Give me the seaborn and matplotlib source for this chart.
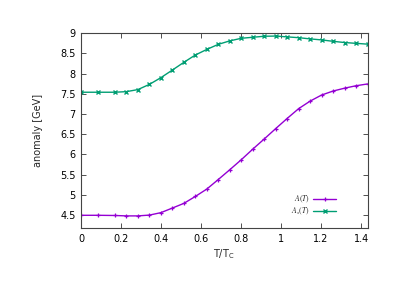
import matplotlib
matplotlib.use("Agg")
import matplotlib.pyplot as plt
import seaborn as sns
import pandas as pd

t_over_tc = [0.0, 0.085, 0.170, 0.227, 0.284, 0.342, 0.399, 0.457, 0.514, 0.571,
             0.629, 0.686, 0.743, 0.801, 0.858, 0.915, 0.973, 1.030, 1.088, 1.145,
             1.202, 1.260, 1.317, 1.374, 1.432]
anomaly_A = [4.495, 4.495, 4.49, 4.48, 4.48, 4.50, 4.56, 4.675, 4.79, 4.96,
             5.145, 5.38, 5.62, 5.87, 6.13, 6.38, 6.64, 6.89, 7.135, 7.32,
             7.47, 7.57, 7.64, 7.70, 7.745]
anomaly_As = [7.54, 7.54, 7.54, 7.555, 7.605, 7.735, 7.90, 8.09, 8.28, 8.46,
              8.60, 8.725, 8.81, 8.875, 8.90, 8.925, 8.93, 8.91, 8.89, 8.86,
              8.835, 8.80, 8.77, 8.75, 8.73]
series_labels = [r'$A(T)$', r'$A_s(T)$']
x_ticks = [0, 0.2, 0.4, 0.6, 0.8, 1, 1.2, 1.4]
x_tick_labels = ['0', '0.2', '0.4', '0.6', '0.8', '1', '1.2', '1.4']
y_ticks = [4.5, 5, 5.5, 6, 6.5, 7, 7.5, 8, 8.5, 9]
y_tick_labels = ['4.5', '5', '5.5', '6', '6.5', '7', '7.5', '8', '8.5', '9']

sns.set_style("ticks")
plt.rcParams['font.family'] = ['DejaVu Sans']
plt.rcParams['mathtext.fontset'] = 'stix'

fig = plt.figure(figsize=(4.10, 2.89), dpi=100)
ax = fig.add_axes([0.1976, 0.211, 0.6988, 0.674])

df_A = pd.DataFrame({'x': t_over_tc, 'y': anomaly_A})
df_As = pd.DataFrame({'x': t_over_tc, 'y': anomaly_As})

sns.lineplot(data=df_A, x='x', y='y', ax=ax, color='#9400d3', linewidth=1.0,
             linestyle='-', dashes=False, marker='+', markersize=3,
             markeredgewidth=0.9, markeredgecolor='#9400d3', label=series_labels[0])
sns.lineplot(data=df_As, x='x', y='y', ax=ax, color='#009e73', linewidth=1.0,
             linestyle='-', dashes=False, marker='x', markersize=2.8,
             markeredgewidth=1.0, markeredgecolor='#009e73', label=series_labels[1])

ax.set_xlim(0, 1.432)
ax.set_ylim(4.18, 9.0)
ax.set_xticks(x_ticks)
ax.set_xticklabels(x_tick_labels)
ax.set_yticks(y_ticks)
ax.set_yticklabels(y_tick_labels)
ax.tick_params(direction='in', length=3.5, width=0.6, labelsize=7, colors='#333333',
               top=True, right=True, labelcolor='black', pad=4)
for s in ax.spines.values():
    s.set_linewidth(0.8)
    s.set_color('#444444')
    s.set_visible(True)

ax.set_xlabel(r'T/T$_\mathregular{C}$', fontsize=7, labelpad=3)
ax.set_ylabel('anomaly [GeV]', fontsize=7, labelpad=12)

leg = ax.legend(loc='lower right', bbox_to_anchor=(0.91, 0.03), frameon=False,
                markerfirst=False, fontsize=5.5, handlelength=3.0, handletextpad=0.5,
                labelspacing=0.05, borderpad=0.2)

fig.savefig('out.png', dpi=100)
